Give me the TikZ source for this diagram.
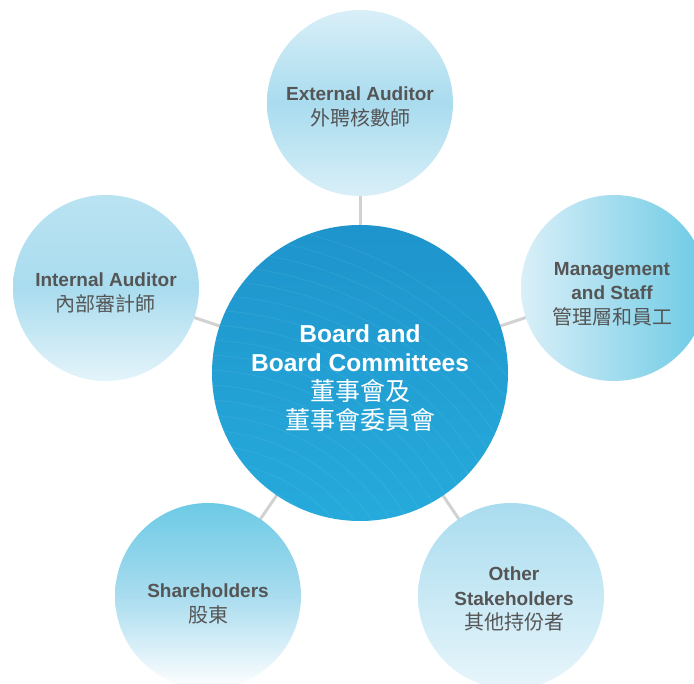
\documentclass[tikz,border=0pt]{standalone}
\usepackage{fontspec}
\setmainfont{Liberation Sans}
\newfontfamily\cjk{Noto Sans CJK TC}
\definecolor{txtgray}{HTML}{555555}
\definecolor{linegray}{HTML}{D2D2D2}
\definecolor{midblue}{HTML}{2AA1D7}
\definecolor{deepblue}{HTML}{1E94CC}
\definecolor{lightA}{HTML}{D9EFF8}
\definecolor{lightB}{HTML}{A9DCEF}
\definecolor{lightC}{HTML}{6CCAE5}
\tikzset{
  outer/.style={circle, minimum size=186pt, inner sep=0pt},
  lbl/.style={text=txtgray, align=center, font=\fontsize{19}{24.5}\selectfont},
  conn/.style={draw=linegray, line width=3pt},
}
\begin{document}
\begin{tikzpicture}[x=1pt,y=-1pt]
\useasboundingbox (0,0) rectangle (694,684);
\clip (0,0) rectangle (694,684);
\fill[white] (0,0) rectangle (694,684);
% node centres
\coordinate (c) at (360,373);
\coordinate (t) at (360,103);
\coordinate (l) at (106,288);
\coordinate (r) at (614,288);
\coordinate (bl) at (208,596);
\coordinate (br) at (511,596);
% connectors
\foreach \p in {t,l,r,bl,br} \draw[conn] (c) -- (\p);
% outer circles
\node[outer, shade, top color=lightA, bottom color=lightA, middle color=lightB] (nt) at (t) {};
\node[outer, shade, top color=lightB!80!white, bottom color=lightA!70!white, middle color=lightB] (nl) at (l) {};
\node[outer, shade, left color=lightA, right color=lightC] (nr) at (r) {};
\node[outer, shade, top color=lightC, bottom color=white, middle color=lightB] (nbl) at (bl) {};
\node[outer, shade, top color=lightB, bottom color=lightA!60!white] (nbr) at (br) {};
% centre circle
\node[circle, minimum size=296pt, inner sep=0pt, shade, shading angle=45, top color=deepblue, bottom color=midblue!90!cyan] (nc) at (c) {};
\begin{scope}
\clip (c) circle (148pt);
\foreach \rr in {150,165,...,420}
  \draw[white, opacity=0.07, line width=0.8pt] (200,640) circle (\rr pt);
\end{scope}
% labels
\node[lbl] (tt) at (360,107) {\textbf{External Auditor}\\{\cjk\fontsize{20}{24.5}\selectfont 外聘核數師}};
\node[lbl] (lt) at (106,293) {\textbf{Internal Auditor}\\{\cjk\fontsize{20}{24.5}\selectfont 內部審計師}};
\node[lbl] (rt) at (612,294) {\textbf{Management}\\\textbf{and Staff}\\{\cjk\fontsize{20}{24.5}\selectfont 管理層和員工}};
\node[lbl] (blt) at (208,604) {\textbf{Shareholders}\\{\cjk\fontsize{20}{24.5}\selectfont 股東}};
\node[lbl] (brt) at (514,599) {\textbf{Other}\\\textbf{Stakeholders}\\{\cjk\fontsize{20}{24.5}\selectfont 其他持份者}};
\node[text=white, align=center, font=\fontsize{24.5}{29}\selectfont] (ct) at (360,378)
  {\textbf{Board and}\\\textbf{Board Committees}\\{\cjk\fontsize{25}{29}\selectfont 董事會及}\\{\cjk\fontsize{25}{29}\selectfont 董事會委員會}};
\end{tikzpicture}
\end{document}
